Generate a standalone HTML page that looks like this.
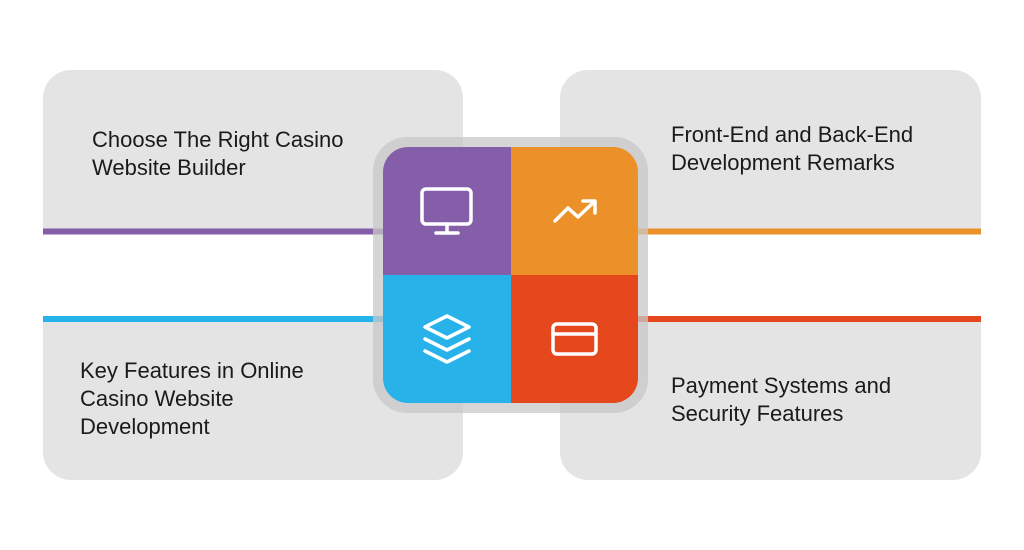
<!DOCTYPE html>
<html><head><meta charset="utf-8"><style>
html,body{margin:0;padding:0;background:#fff;width:1024px;height:550px;overflow:hidden}
text{font-family:"Liberation Sans",sans-serif;font-size:22px;fill:#1a1a1a}
</style></head><body>
<svg width="1024" height="550" viewBox="0 0 1024 550" xmlns="http://www.w3.org/2000/svg">
<path d="M43 234 V98 a28 28 0 0 1 28 -28 H435 a28 28 0 0 1 28 28 V234 Z" fill="#e4e4e4"/>
<path d="M43 316 V452 a28 28 0 0 0 28 28 H435 a28 28 0 0 0 28 -28 V316 Z" fill="#e4e4e4"/>
<path d="M560 234 V98 a28 28 0 0 1 28 -28 H953 a28 28 0 0 1 28 28 V234 Z" fill="#e4e4e4"/>
<path d="M560 316 V452 a28 28 0 0 0 28 28 H953 a28 28 0 0 0 28 -28 V316 Z" fill="#e4e4e4"/>
<rect x="43" y="228.5" width="345" height="6" fill="#845ea8"/>
<rect x="43" y="316" width="345" height="6" fill="#27b2ea"/>
<rect x="630" y="228.5" width="351" height="6" fill="#ec9129"/>
<rect x="630" y="316" width="351" height="6" fill="#e5481d"/>
<rect x="373" y="137" width="275" height="276" rx="34" fill="#c8c8c8" fill-opacity="0.75"/>
<clipPath id="c"><rect x="383" y="147" width="255" height="256" rx="25"/></clipPath>
<g clip-path="url(#c)">
<rect x="383" y="147" width="128" height="128" fill="#845ea8"/>
<rect x="511" y="147" width="127" height="128" fill="#ec9129"/>
<rect x="383" y="275" width="128" height="128" fill="#27b2ea"/>
<rect x="511" y="275" width="127" height="128" fill="#e5481d"/>
</g>
<g fill="none" stroke="#fff" stroke-width="3.5" stroke-linecap="round" stroke-linejoin="round">
<rect x="422" y="189" width="49" height="35" rx="4"/>
<line x1="447" y1="224" x2="447" y2="233"/>
<line x1="436" y1="233" x2="458" y2="233"/>
<polyline points="555,221 568,208 578,217 594,202"/>
<polyline points="583,201 595,201 595,213"/>
<path d="M425 327 L447 316 L469 327 L447 338 Z"/>
<polyline points="425,339 447,350 469,339"/>
<polyline points="425,351 447,362 469,351"/>
<rect x="553" y="324" width="43" height="30" rx="4"/>
<line x1="553" y1="334" x2="596" y2="334"/>
</g>
<text x="92" y="147">Choose The Right Casino</text>
<text x="92" y="175">Website Builder</text>
<text x="671" y="142">Front-End and Back-End</text>
<text x="671" y="170">Development Remarks</text>
<text x="80" y="378">Key Features in Online</text>
<text x="80" y="406">Casino Website</text>
<text x="80" y="434">Development</text>
<text x="671" y="393">Payment Systems and</text>
<text x="671" y="421">Security Features</text>
</svg>
</body></html>
